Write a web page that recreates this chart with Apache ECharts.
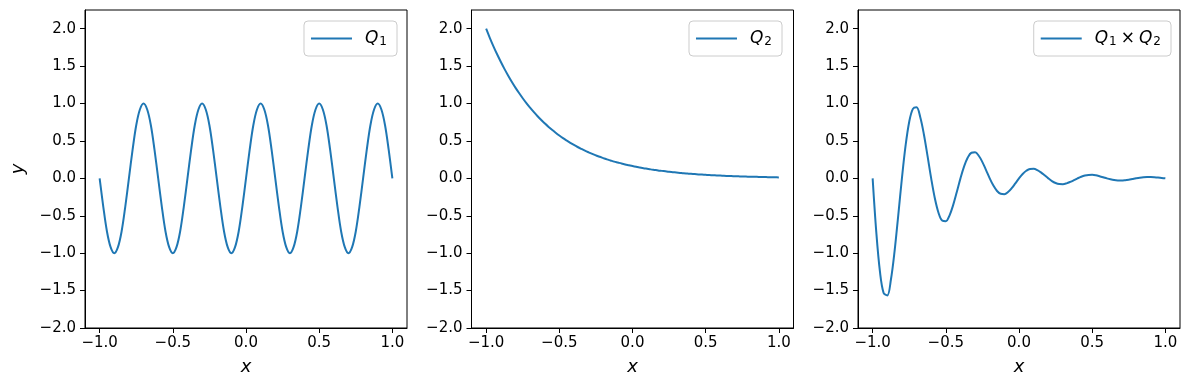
<!DOCTYPE html>
<html>
<head>
<meta charset="utf-8">
<script src="https://cdn.jsdelivr.net/npm/echarts@6/dist/echarts.min.js"></script>
<style>
html,body{margin:0;padding:0;background:#fff;}
#chart{width:1189px;height:390px;}
</style>
</head>
<body>
<div id="chart"></div>
<script>
// x samples (shared by all three panels)
const xValues = [
-1.000,-0.975,-0.950,-0.925,-0.900,-0.875,-0.850,-0.825,-0.800,-0.775,
-0.750,-0.725,-0.700,-0.675,-0.650,-0.625,-0.600,-0.575,-0.550,-0.525,
-0.500,-0.475,-0.450,-0.425,-0.400,-0.375,-0.350,-0.325,-0.300,-0.275,
-0.250,-0.225,-0.200,-0.175,-0.150,-0.125,-0.100,-0.075,-0.050,-0.025,
0.000,0.025,0.050,0.075,0.100,0.125,0.150,0.175,0.200,0.225,
0.250,0.275,0.300,0.325,0.350,0.375,0.400,0.425,0.450,0.475,
0.500,0.525,0.550,0.575,0.600,0.625,0.650,0.675,0.700,0.725,
0.750,0.775,0.800,0.825,0.850,0.875,0.900,0.925,0.950,0.975,
1.000];

// Q1 (panel 1)
const q1Values = [
0,-0.38,-0.71,-0.92,-1,-0.92,-0.71,-0.38,0,0.38,0.71,0.92,1,0.92,0.71,0.38,
0,-0.38,-0.71,-0.92,-1,-0.92,-0.71,-0.38,0,0.38,0.71,0.92,1,0.92,0.71,0.38,
0,-0.38,-0.71,-0.92,-1,-0.92,-0.71,-0.38,0,0.38,0.71,0.92,1,0.92,0.71,0.38,
0,-0.38,-0.71,-0.92,-1,-0.92,-0.71,-0.38,0,0.38,0.71,0.92,1,0.92,0.71,0.38,
0,-0.38,-0.71,-0.92,-1,-0.92,-0.71,-0.38,0,0.38,0.71,0.92,1,0.92,0.71,0.38,
0];

// Q2 (panel 2)
const q2Values = [
2.000,1.879,1.765,1.658,1.558,1.463,1.375,1.291,1.213,1.140,
1.071,1.006,0.945,0.888,0.834,0.783,0.736,0.691,0.649,0.610,
0.573,0.538,0.506,0.475,0.446,0.419,0.394,0.370,0.348,0.327,
0.307,0.288,0.271,0.254,0.239,0.224,0.211,0.198,0.186,0.175,
0.164,0.154,0.145,0.136,0.128,0.120,0.113,0.106,0.100,0.094,
0.088,0.083,0.078,0.073,0.068,0.064,0.060,0.057,0.053,0.050,
0.047,0.044,0.042,0.039,0.037,0.034,0.032,0.030,0.029,0.027,
0.025,0.024,0.022,0.021,0.020,0.018,0.017,0.016,0.015,0.014,
0.013];

// Q1 x Q2 (panel 3)
const prodValues = [
0,-0.719,-1.248,-1.532,-1.565,-1.352,-0.972,-0.494,0,0.436,
0.757,0.929,0.950,0.820,0.590,0.300,0,-0.265,-0.459,-0.564,
-0.573,-0.497,-0.358,-0.182,0,0.160,0.278,0.342,0.348,0.302,
0.217,0.110,0,-0.097,-0.169,-0.207,-0.211,-0.183,-0.132,-0.067,
0,0.059,0.102,0.126,0.128,0.111,0.080,0.041,0,-0.036,
-0.062,-0.076,-0.078,-0.067,-0.048,-0.025,0,0.022,0.038,0.046,
0.047,0.041,0.029,0.015,0,-0.013,-0.023,-0.028,-0.029,-0.025,
-0.018,-0.009,0,0.008,0.014,0.017,0.017,0.015,0.011,0.005,
0];

const xTicks = [-1.0,-0.5,0.0,0.5,1.0];
const yTicks = [-2.0,-1.5,-1.0,-0.5,0.0,0.5,1.0,1.5,2.0];
const seriesNames = ['Q1','Q2','Q1xQ2'];
const legendLabels = {
  'Q1': '{q|Q}{s|1}',
  'Q2': '{q|Q}{s|2}',
  'Q1xQ2': '{q|Q}{s|1}{m|×}{q2|Q}{s|2}'
};

const FONT = 'DejaVu Sans';
const LINE = '#1f77b4';
const fmt = v => (v < 0 ? '\u2212' : '') + Math.abs(v).toFixed(1);
const pairs = ys => xValues.map((x, i) => [x, ys[i]]);

const gridLefts = [85, 471.5, 858];
const gridW = 322;
const grids = gridLefts.map(l => ({
  left: l, top: 10, width: gridW, height: 318,
  show: true, borderColor: '#000', borderWidth: 1, backgroundColor: 'transparent'
}));

const xAxes = [0,1,2].map(i => ({
  type: 'value', gridIndex: i, min: -1.1, max: 1.1,
  name: 'x', nameLocation: 'middle', nameGap: 30,
  nameTextStyle: { fontFamily: FONT, fontStyle: 'italic', fontSize: 18, color: '#000' },
  axisLine: { show: true, onZero: false, lineStyle: { color: '#000', width: 1 } },
  axisTick: { show: true, length: 5, customValues: xTicks, lineStyle: { color: '#000', width: 1 } },
  axisLabel: { customValues: xTicks, formatter: fmt, margin: 8, fontFamily: FONT, fontSize: 15, color: '#000' },
  splitLine: { show: false }
}));

const yAxes = [0,1,2].map(i => ({
  type: 'value', gridIndex: i, min: -2, max: 2.25,
  name: i === 0 ? 'y' : '', nameLocation: 'middle', nameGap: 58,
  nameTextStyle: { fontFamily: FONT, fontStyle: 'italic', fontSize: 18, color: '#000' },
  axisLine: { show: true, onZero: false, lineStyle: { color: '#000', width: 1 } },
  axisTick: { show: true, length: 5, customValues: yTicks, lineStyle: { color: '#000', width: 1 } },
  axisLabel: { customValues: yTicks, formatter: fmt, margin: 9, fontFamily: FONT, fontSize: 15, color: '#000' },
  splitLine: { show: false }
}));

const richStyles = {
  q: { fontFamily: FONT, fontStyle: 'italic', fontSize: 17, color: '#000', lineHeight: 19, padding: [0,0,0,8] },
  q2: { fontFamily: FONT, fontStyle: 'italic', fontSize: 17, color: '#000', lineHeight: 19 },
  s: { fontFamily: FONT, fontSize: 12, color: '#000', lineHeight: 12, verticalAlign: 'bottom', padding: [0,0,0,1] },
  m: { fontFamily: FONT, fontSize: 17, color: '#000', lineHeight: 19, padding: [0,4,0,4] }
};
const legendRights = [792, 407, 18];
const legends = seriesNames.map((n, i) => ({
  data: [n], top: 21, right: legendRights[i],
  padding: [9, 10, 8, 7], itemWidth: 41, itemHeight: 2, itemGap: 0,
  icon: 'path://M0,0H41V2H0Z',
  itemStyle: { color: LINE, borderWidth: 0 },
  borderColor: '#cccccc', borderWidth: 1, borderRadius: 4,
  backgroundColor: 'rgba(255,255,255,0.8)',
  formatter: name => legendLabels[name],
  textStyle: { rich: richStyles, fontFamily: FONT, fontSize: 17, color: '#000' },
  selectedMode: false
}));

const seriesData = [q1Values, q2Values, prodValues];
const series = seriesNames.map((n, i) => ({
  name: n, type: 'line', xAxisIndex: i, yAxisIndex: i,
  data: pairs(seriesData[i]), smooth: 0.35, symbol: 'none', showSymbol: false,
  lineStyle: { color: LINE, width: 2 }, itemStyle: { color: LINE },
  animation: false
}));

const chart = echarts.init(document.getElementById('chart'), null, { renderer: 'canvas' });
chart.setOption({
  animation: false,
  backgroundColor: '#fff',
  grid: grids, xAxis: xAxes, yAxis: yAxes, legend: legends, series: series
});
</script>
</body>
</html>
